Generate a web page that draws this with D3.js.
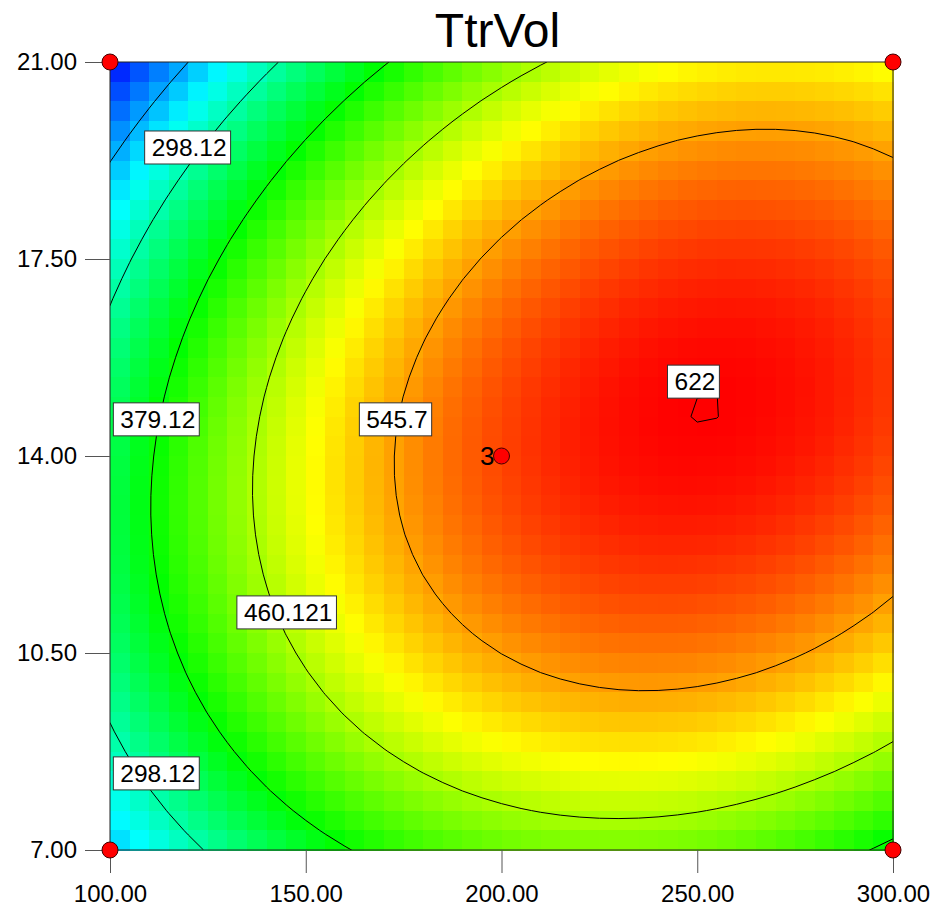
<!DOCTYPE html>
<html>
<head>
<meta charset="utf-8">
<script src="https://cdn.jsdelivr.net/npm/d3@7"></script>
<style>
  body { margin: 0; background: #fff; }
  svg { display: block; font-family: Arial, "Liberation Sans", sans-serif; }
</style>
</head>
<body>
<div id="chart"></div>
<script>
// TtrVol response surface, factor A on x, factor B on y
const xRange = [100, 300];
const yRange = [7, 21];
const xTicks = [100, 150, 200, 250, 300];
const yTicks = [7, 10.5, 14, 17.5, 21];

// fitted quadratic in coded units
const modelTerms = ["Intercept", "A", "B", "AB", "A^2", "B^2"];
const modelCoefs = [589.35, 124.66, 8.28, 54.5, -126.0, -156.5];

const contourLevels = [217.12, 298.12, 379.12, 460.121, 545.7, 622];

// contour labels, placed in data units
const labelText = ["298.12", "379.12", "545.7", "460.121", "298.12", "622"];
const labelX = [119.7, 111.7, 172.8, 145.0, 111.7, 248.9];
const labelY = [19.49, 14.66, 14.66, 11.23, 8.37, 15.33];

// design points (count > 1 gets a label)
const designX = [100, 100, 300, 300, 200];
const designY = [7, 21, 7, 21, 14];
const designCount = [1, 1, 1, 1, 3];

const gridN = 40;

const width = 937, height = 908;
const plot = { left: 110, right: 893, top: 62, bottom: 850 };

const x = d3.scaleLinear().domain(xRange).range([plot.left, plot.right]);
const y = d3.scaleLinear().domain(yRange).range([plot.bottom, plot.top]);

const xMid = (xRange[0] + xRange[1]) / 2, xHalf = (xRange[1] - xRange[0]) / 2;
const yMid = (yRange[0] + yRange[1]) / 2, yHalf = (yRange[1] - yRange[0]) / 2;

function predict(xv, yv) {
    const A = (xv - xMid) / xHalf, B = (yv - yMid) / yHalf;
    const t = [1, A, B, A * B, A * A, B * B];
    return d3.sum(t, (v, i) => v * modelCoefs[i]);
}

const dx = (xRange[1] - xRange[0]) / gridN;
const dy = (yRange[1] - yRange[0]) / gridN;

// grid vertices, row 0 at the top
const nx = gridN + 1, ny = gridN + 1;
const values = new Array(nx * ny);
for (let j = 0; j < ny; j++) {
    for (let i = 0; i < nx; i++) {
        values[j * nx + i] = predict(xRange[0] + i * dx, yRange[1] - j * dy);
    }
}
const [vmin, vmax] = d3.extent(values);

const color = d3.scaleLinear()
    .domain([0, 0.25, 0.5, 0.75, 1].map(t => vmin + t * (vmax - vmin)))
    .range(["#0000ff", "#00ffff", "#00ff00", "#ffff00", "#ff0000"])
    .clamp(true);

const cells = [];
for (let j = 0; j < gridN; j++) {
    for (let i = 0; i < gridN; i++) {
        const x0 = xRange[0] + i * dx, y1 = yRange[1] - j * dy;
        cells.push({ x0, x1: x0 + dx, y1, y0: y1 - dy, v: predict(x0 + dx / 2, y1 - dy / 2) });
    }
}

const svg = d3.select("#chart")
    .append("svg")
    .attr("width", width)
    .attr("height", height);

svg.append("defs").append("clipPath")
    .attr("id", "plot-clip")
    .append("rect")
    .attr("x", plot.left)
    .attr("y", plot.top)
    .attr("width", plot.right - plot.left)
    .attr("height", plot.bottom - plot.top);

svg.append("g")
    .attr("shape-rendering", "crispEdges")
    .selectAll("rect")
    .data(cells)
    .join("rect")
    .attr("x", d => x(d.x0))
    .attr("y", d => y(d.y1))
    .attr("width", d => x(d.x1) - x(d.x0) + 0.6)
    .attr("height", d => y(d.y0) - y(d.y1) + 0.6)
    .attr("fill", d => color(d.v));

// contour lines
const contours = d3.contours().size([nx, ny]).thresholds(contourLevels)(values);
const line = d3.line()
    .x(p => x(xRange[0] + (p[0] - 0.5) * dx))
    .y(p => y(yRange[1] - (p[1] - 0.5) * dy));

svg.append("g")
    .attr("clip-path", "url(#plot-clip)")
    .selectAll("path")
    .data(contours)
    .join("path")
    .attr("d", c => c.coordinates.map(poly => poly.map(ring => line(ring) + "Z").join("")).join(""))
    .attr("fill", "none")
    .attr("stroke", "#000")
    .attr("stroke-width", 1);

// plot frame
svg.append("rect")
    .attr("x", plot.left)
    .attr("y", plot.top)
    .attr("width", plot.right - plot.left)
    .attr("height", plot.bottom - plot.top)
    .attr("fill", "none")
    .attr("stroke", "#222")
    .attr("stroke-width", 1);

// contour labels
const labels = svg.append("g")
    .selectAll("g")
    .data(labelText.map((t, i) => ({ t, x: labelX[i], y: labelY[i] })))
    .join("g")
    .attr("transform", d => `translate(${x(d.x)},${y(d.y)})`);

labels.append("rect");
labels.append("text")
    .attr("text-anchor", "middle")
    .attr("dy", "0.36em")
    .attr("x", 2)
    .attr("font-size", 24.5)
    .attr("fill", "#000")
    .text(d => d.t);

labels.each(function () {
    const g = d3.select(this);
    const w = g.select("text").node().getComputedTextLength();
    g.select("rect")
        .attr("x", -w / 2 - 5)
        .attr("y", -16)
        .attr("width", w + 11)
        .attr("height", 33)
        .attr("fill", "#fff")
        .attr("stroke", "#333")
        .attr("stroke-width", 1);
});

// axes
const fmt = d3.format(".2f");
svg.append("g")
    .attr("transform", `translate(0,${plot.bottom})`)
    .call(d3.axisBottom(x).tickValues(xTicks).tickFormat(fmt).tickSize(23).tickPadding(12))
    .call(g => g.select(".domain").remove())
    .call(g => g.selectAll("line").attr("stroke", "#555"))
    .call(g => g.selectAll("text").attr("fill", "#000").attr("font-size", 24)
        .attr("font-family", "Arial, 'Liberation Sans', sans-serif"));

svg.append("g")
    .attr("transform", `translate(${plot.left},0)`)
    .call(d3.axisLeft(y).tickValues(yTicks).tickFormat(fmt).tickSize(25).tickPadding(8))
    .call(g => g.select(".domain").remove())
    .call(g => g.selectAll("line").attr("stroke", "#555"))
    .call(g => g.selectAll("text").attr("fill", "#000").attr("font-size", 24)
        .attr("font-family", "Arial, 'Liberation Sans', sans-serif"));

// design points
const pts = designX.map((d, i) => ({ x: d, y: designY[i], n: designCount[i] }));
svg.append("g")
    .selectAll("circle")
    .data(pts)
    .join("circle")
    .attr("cx", d => x(d.x))
    .attr("cy", d => y(d.y))
    .attr("r", 8)
    .attr("fill", "#ff0000")
    .attr("stroke", "#400")
    .attr("stroke-width", 1);

svg.append("g")
    .selectAll("text")
    .data(pts.filter(d => d.n > 1))
    .join("text")
    .attr("x", d => x(d.x) - 7)
    .attr("y", d => y(d.y) + 9)
    .attr("text-anchor", "end")
    .attr("font-size", 26)
    .attr("fill", "#000")
    .text(d => d.n);

// title
svg.append("text")
    .attr("x", (plot.left + plot.right) / 2 - 4)
    .attr("y", 47)
    .attr("text-anchor", "middle")
    .attr("font-size", 48)
    .attr("fill", "#000")
    .text("TtrVol");
</script>
</body>
</html>
